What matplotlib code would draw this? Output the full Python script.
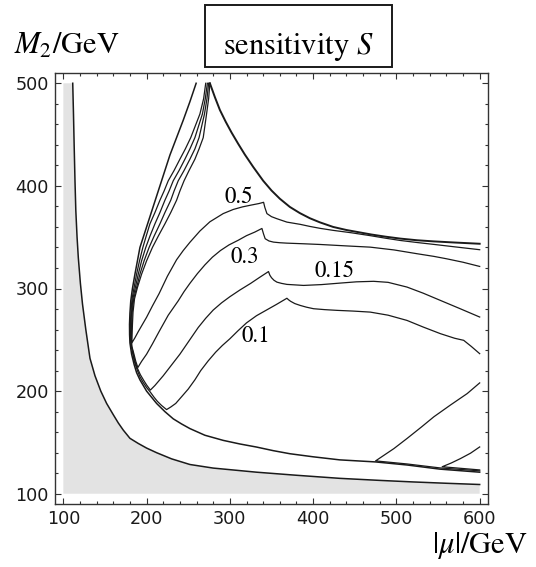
import numpy as np
import matplotlib.pyplot as plt
from matplotlib.patches import Rectangle
from matplotlib.ticker import MultipleLocator

plt.rcParams['mathtext.fontset'] = 'stix'

# lower edge of the shaded (excluded) region
edge_mu = [111.3, 112.2, 113, 114, 115, 116.5, 118, 120.5, 123, 127, 132, 138, 145, 152, 160,
           166, 172, 180, 190, 200, 212, 230, 252, 280, 332, 380, 432, 480, 520, 560, 600]
edge_m2 = [500, 470, 440, 405, 376, 350, 330, 305, 285, 260, 232, 215, 200, 188, 177,
           169, 162, 154, 149, 144.5, 140, 134, 128.5, 125, 121, 118, 115, 113, 111.5, 110.2, 109]

# outer contour: left branch, then along the bottom
outer_mu = [259.5, 252, 244, 236, 228, 220, 212, 206, 200, 196, 192, 189, 186, 183, 181, 180,
            179.5, 179.6, 180, 182, 185, 188, 192, 200, 212, 222, 232, 242, 252, 270, 292,
            312, 332, 352, 372, 400, 432, 475, 513, 552, 600]
outer_m2 = [500, 482, 464, 447, 430, 410, 390, 375, 360, 350, 340, 327, 314, 300, 288, 276,
            265, 255, 247, 236, 226, 218, 211, 200, 188, 180, 173, 168, 163.5, 157, 152,
            148.5, 145.5, 142, 139, 136, 133, 131, 128, 124, 121]

# outer contour: right branch falling from the cusp
right_mu = [276, 282, 288, 295, 302, 310, 318, 328, 340, 350, 360, 372, 384, 396, 408, 424,
            440, 455, 470, 487, 505, 525, 545, 570, 600]
right_m2 = [500, 486.5, 474, 462.5, 452, 441, 430.5, 418.5, 405, 395.5, 387.5, 379.5, 373.5,
            368.5, 364.5, 360, 357, 354.8, 352.6, 350.5, 348.6, 347, 345.9, 344.8, 343.6]

# sensitivity contours S = 0.5, 0.3, 0.15, 0.1 (left arm from the cusp, tip, right arm)
s05_mu = [276, 274.5, 272, 268, 263, 258, 251, 245, 240, 236, 229, 222, 214, 207, 200, 194,
          189, 185.5, 183.7, 183, 182.6, 182.3,
          186, 190, 195, 200, 207, 215, 225, 236, 244, 252, 264, 276, 292, 304, 315, 325,
          335, 340.5, 342, 344.5, 350, 356.5, 368.5, 384.6, 396, 408.5, 424.5, 446, 468.6,
          487, 504.7, 525, 544.7, 570, 600]
s05_m2 = [500, 485, 470, 447, 436, 426, 415, 405, 395, 386, 374, 363, 351, 340, 327, 314,
          301, 290, 277, 265, 256, 247,
          252, 258, 265, 272, 283, 295, 312, 328, 337, 345, 356, 365, 373, 377, 379.5, 381.2,
          382.8, 384, 379, 373, 370, 368, 364.7, 362.5, 360.5, 358.6, 356.6, 354.3, 351.5,
          349, 346.8, 344.8, 343, 340.6, 337.8]

s03_mu = [274.5, 272.5, 269.5, 263, 258, 252, 245, 238, 233, 229, 222, 216, 209, 203, 197,
          192, 188, 184.5, 182.7, 182, 181.7, 182.5, 184.5, 187, 189.5,
          194, 200, 207, 215, 226, 238, 245, 252, 261, 270, 279, 288.7, 299, 310, 320, 330,
          338.5, 340.5, 342.4, 347, 352.4, 360, 368.5, 388, 408.5, 440, 468.6, 497, 524.7,
          545, 560, 580, 600]
s03_m2 = [500, 485, 470, 447, 436, 426, 415, 405, 395, 386, 374, 363, 351, 340, 327,
          314, 301, 290, 277, 265, 250, 243, 237, 229, 223,
          229, 236, 246, 258, 274, 288, 297, 305, 314.5, 323, 330.5, 337, 342.5, 347, 351.5, 355,
          358.5, 353, 348.5, 346.3, 345.2, 344.6, 344.2, 343.6, 342.9, 341.5, 340.3, 337.6, 333.9,
          331.3, 329, 325.6, 321.5]

s015_mu = [273, 270.5, 267, 258, 252, 246, 239, 232, 227, 222, 216, 210, 204, 199, 194, 190,
           186.5, 183.5, 182, 181, 181, 181.5, 183.6, 186, 188, 189.7, 192.5, 196.5, 200, 204.5,
           210, 220, 230, 240, 251, 262, 271, 280, 290, 300, 312, 325, 336, 346.4, 348, 350,
           353, 356.5, 362, 368.5, 388.5, 410, 432.9, 452, 472.6, 490, 512.7, 532, 552.8,
           576, 600]
s015_m2 = [500, 485, 470, 447, 436, 426, 415, 405, 395, 386, 374, 363, 351, 340, 327, 314,
           301, 290, 277, 265, 250, 245, 238, 229, 224, 221, 216, 210.5, 206, 201,
           205.5, 215, 225.5, 236, 249, 262, 271, 279, 286, 292, 298.5, 305, 311, 316.5, 313,
           310.5, 308, 306.2, 305, 304, 303, 303.8, 305.3, 306.5, 307, 306, 301.4, 295.5, 288.4,
           280.5, 272.2]

s01_mu = [271, 268.5, 264, 253, 246.5, 240, 233, 226, 221, 216, 210, 204, 199.5, 195.5, 191.5,
          188, 185, 182.5, 181.2, 180.5, 180.6, 181.5, 183, 185.3, 189, 192, 195.5, 200, 204.5,
          209, 213, 218, 224,
          229, 235, 242, 250, 258, 265, 274, 283, 291, 300, 310, 320, 332, 344, 356, 368.5,
          370.5, 373, 378, 384.5, 392, 400.5, 414, 428.6, 448, 468.6, 490, 512.7, 532, 552.8,
          570, 580.8, 590, 600]
s01_m2 = [500, 485, 470, 447, 436, 426, 415, 405, 395, 386, 374, 363, 351, 340, 327,
          314, 301, 290, 277, 265, 250, 244, 238, 229, 220, 214, 209, 203.5, 199,
          194, 190, 186, 182,
          184.5, 188, 194.5, 202, 211, 220, 229.5, 238, 244.5, 251, 259, 266.5, 273.5, 279,
          284.5, 290.5, 289, 287.5, 285.3, 283.5, 281.8, 280.3, 279.4, 278.7, 278, 277, 274,
          268.9, 262.5, 256, 251.5, 249.5, 243.5, 236.5]

# contours leaving the lower edge at large |mu|
lowA_mu = [600, 552, 513, 475, 486, 497, 513, 530, 545, 565, 585, 600]
lowA_m2 = [122.3, 125.2, 129, 132, 138, 144, 154, 165, 175, 186.5, 197.6, 208]
lowB_mu = [600, 555, 566, 577, 589, 600]
lowB_m2 = [123.2, 126.3, 130, 134.3, 139.5, 145.6]

# contour labels: text, mu, M2 (baseline)
labels = ['0.5', '0.3', '0.15', '0.1']
label_mu = [311, 318, 425.6, 331]
label_m2 = [383, 324.5, 311.5, 248]

fig = plt.figure(figsize=(5.36, 5.67), dpi=100)
ax = fig.add_axes([55 / 536, 1 - 504 / 567, 433 / 536, 431 / 567])

ax.fill([100, 100] + edge_mu + [600], [100, 500] + edge_m2 + [100],
        color='#e3e3e3', lw=0, zorder=1)
ax.plot(edge_mu, edge_m2, color='#1a1a1a', lw=1.1, zorder=3)

ax.plot(outer_mu, outer_m2, color='#1a1a1a', lw=1.1, zorder=3)
ax.plot(right_mu, right_m2, color='#1a1a1a', lw=1.4, zorder=3)
for mu, m2 in [(s05_mu, s05_m2), (s03_mu, s03_m2), (s015_mu, s015_m2), (s01_mu, s01_m2),
               (lowA_mu, lowA_m2), (lowB_mu, lowB_m2)]:
    ax.plot(mu, m2, color='#1a1a1a', lw=0.9, zorder=3)

for t, x, y in zip(labels, label_mu, label_m2):
    ax.text(x, y, t, ha='center', va='baseline', fontsize=16.5, family='STIXGeneral')

ax.set_xlim(90, 610)
ax.set_ylim(90, 510)
ax.set_xticks(range(100, 601, 100))
ax.set_yticks(range(100, 501, 100))
ax.xaxis.set_minor_locator(MultipleLocator(20))
ax.yaxis.set_minor_locator(MultipleLocator(20))
ax.tick_params(which='both', direction='in', top=True, right=True, width=0.8, color='#333333')
ax.tick_params(which='major', length=4, pad=4.5)
ax.tick_params(which='minor', length=2.5)
for lab in ax.get_xticklabels() + ax.get_yticklabels():
    lab.set_family('DejaVu Sans')
    lab.set_fontsize(12.7)
    lab.set_color('#1a1a1a')
for s in ax.spines.values():
    s.set_linewidth(1.0)
    s.set_color('#333333')

fig.text(14 / 536, 1 - 54 / 567, r'$M_2/\mathrm{GeV}$', fontsize=22, va='baseline')
fig.text(298 / 536, 1 - 54 / 567, r'sensitivity $S$', fontsize=22, ha='center',
         va='baseline', family='STIXGeneral')
fig.patches.append(Rectangle((205 / 536, 1 - 67 / 567), 187 / 536, 62 / 567,
                             transform=fig.transFigure, fill=False, lw=1.4, color='#1a1a1a'))
fig.text(528 / 536, 1 - 553 / 567, r'$|\mu|/\mathrm{GeV}$', fontsize=22, ha='right',
         va='baseline')

fig.savefig('out.png', dpi=100)
